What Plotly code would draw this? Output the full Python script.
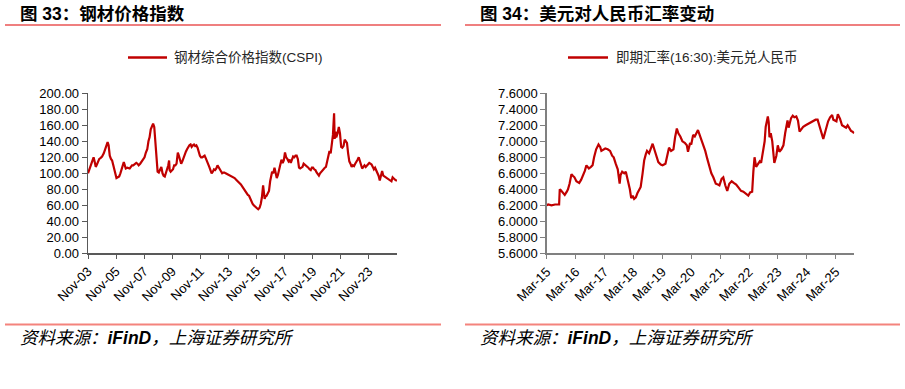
import plotly.graph_objects as go

# ---------------- data: CSPI steel price index ----------------
cspi_dates = [
    "2003-11-01", "2003-12-10", "2004-01-20", "2004-02-20", "2004-03-25", "2004-04-20", "2004-05-20",
    "2004-06-20", "2004-07-15", "2004-08-20", "2004-09-20", "2004-11-01", "2004-12-15", "2005-01-25",
    "2005-03-10", "2005-03-25", "2005-04-20", "2005-05-20", "2005-06-20", "2005-07-20", "2005-08-20",
    "2005-09-20", "2005-11-10", "2005-12-15", "2006-01-20", "2006-02-20", "2006-03-20", "2006-04-20",
    "2006-05-20", "2006-06-15", "2006-07-10", "2006-08-20", "2006-09-20", "2006-10-20", "2006-11-20",
    "2006-12-20", "2007-01-20", "2007-03-01", "2007-04-10", "2007-05-10", "2007-06-10", "2007-07-20",
    "2007-08-20", "2007-10-01", "2007-11-10", "2007-12-15", "2008-01-20", "2008-02-20", "2008-03-20",
    "2008-04-20", "2008-05-20", "2008-06-20", "2008-07-20", "2008-08-15", "2008-09-15", "2008-10-15",
    "2008-11-15", "2008-12-20", "2009-01-20", "2009-02-20", "2009-03-20", "2009-04-20", "2009-05-20",
    "2009-06-20", "2009-07-20", "2009-08-10", "2009-08-25", "2009-09-20", "2009-10-20", "2009-11-20",
    "2009-12-20", "2010-01-20", "2010-02-20", "2010-03-25", "2010-04-20", "2010-05-20", "2010-06-20",
    "2010-07-20", "2010-08-20", "2010-09-20", "2010-10-20", "2010-11-20", "2010-12-20", "2011-01-20",
    "2011-02-20", "2011-03-20", "2011-04-20", "2011-05-20", "2011-06-20", "2011-07-20", "2011-08-20",
    "2011-09-20", "2011-10-20", "2011-11-20", "2011-12-20", "2012-01-20", "2012-02-20", "2012-03-20",
    "2012-04-20", "2012-05-20", "2012-06-20", "2012-07-20", "2012-08-20", "2012-09-20", "2012-10-20",
    "2012-11-20", "2012-12-20", "2013-01-20", "2013-02-20", "2013-03-20", "2013-04-20", "2013-05-20",
    "2013-06-20", "2013-07-20", "2013-08-20", "2013-10-01", "2013-11-20", "2014-01-10", "2014-02-20",
    "2014-04-10", "2014-05-20", "2014-07-10", "2014-08-20", "2014-09-20", "2014-11-01", "2014-12-10",
    "2015-01-10", "2015-02-15", "2015-03-20", "2015-04-20", "2015-05-20", "2015-06-20", "2015-07-20",
    "2015-08-20", "2015-09-20", "2015-10-20", "2015-11-20", "2015-12-15", "2016-01-20", "2016-02-20",
    "2016-03-20", "2016-04-20", "2016-05-10", "2016-05-30", "2016-06-20", "2016-07-20", "2016-08-20",
    "2016-09-20", "2016-10-20", "2016-11-20", "2016-12-10", "2017-01-10", "2017-02-10", "2017-03-10",
    "2017-04-10", "2017-05-10", "2017-06-10", "2017-07-10", "2017-08-10", "2017-09-10", "2017-10-10",
    "2017-11-10", "2017-12-10", "2018-01-10", "2018-02-10", "2018-03-10", "2018-04-10", "2018-05-10",
    "2018-06-10", "2018-07-10", "2018-08-10", "2018-09-10", "2018-10-10", "2018-11-10", "2018-12-10",
    "2019-01-10", "2019-02-10", "2019-03-10", "2019-04-10", "2019-05-10", "2019-06-10", "2019-07-10",
    "2019-08-10", "2019-09-10", "2019-10-10", "2019-11-10", "2019-12-10", "2020-01-10", "2020-02-10",
    "2020-03-10", "2020-04-10", "2020-05-10", "2020-06-10", "2020-07-10", "2020-08-10", "2020-09-10",
    "2020-10-10", "2020-11-10", "2020-12-10", "2021-01-10", "2021-02-10", "2021-03-10", "2021-04-10",
    "2021-05-10", "2021-05-25", "2021-06-15", "2021-07-05", "2021-08-10", "2021-09-10", "2021-10-10",
    "2021-11-10", "2021-12-10", "2022-01-10", "2022-02-10", "2022-03-10", "2022-04-10", "2022-05-10",
    "2022-06-10", "2022-07-10", "2022-08-10", "2022-09-10", "2022-10-10", "2022-11-10", "2022-12-10",
    "2023-01-10", "2023-02-10", "2023-03-10", "2023-04-10", "2023-05-10", "2023-06-10", "2023-07-10",
    "2023-08-10", "2023-09-10", "2023-10-10", "2023-11-10", "2023-12-10", "2024-01-10", "2024-02-10",
    "2024-03-10", "2024-04-10", "2024-05-10", "2024-06-10", "2024-07-10", "2024-08-10", "2024-09-10",
    "2024-10-10", "2024-11-10", "2024-12-10", "2025-01-10", "2025-02-10", "2025-03-10", "2025-04-10",
    "2025-05-10", "2025-06-10", "2025-07-10", "2025-08-10", "2025-09-10", "2025-10-10", "2025-10-31",
]
cspi_values = [
    100, 105, 112, 116, 120, 115, 108,
    111, 114, 118, 119, 121, 125, 130,
    137, 139, 135, 122, 118, 116, 110,
    103, 94, 95, 96, 100, 105, 108,
    114, 110, 106, 107, 106, 106, 108,
    110, 110, 111, 113, 112, 110, 112,
    114, 116, 120, 126, 130, 140, 145,
    155, 158, 162, 158, 140, 118, 102,
    101, 104, 108, 100, 97, 96, 101,
    103, 110, 116, 104, 102, 103, 105,
    110, 110, 112, 126, 122, 118, 112,
    115, 120, 123, 127, 130, 133, 135,
    136, 133, 135, 136, 134, 135, 132,
    125, 122, 120, 120, 121, 122, 119,
    116, 112, 108, 104, 100, 102, 105,
    104, 106, 110, 107, 104, 102, 100,
    101, 101, 100, 99, 98, 96, 95,
    94, 92, 90, 88, 86, 83, 80,
    77, 74, 73, 72, 68, 65, 62,
    60, 59, 58, 56, 55, 57, 62,
    70, 85, 70, 68, 71, 72, 75,
    78, 90, 98, 102, 100, 107, 101,
    94, 98, 104, 108, 117, 113, 116,
    126, 120, 118, 115, 117, 113, 117,
    121, 120, 122, 122, 118, 107, 106,
    107, 108, 112, 111, 109, 108, 107,
    105, 104, 107, 107, 105, 104, 101,
    99, 97, 100, 102, 104, 106, 107,
    108, 115, 122, 128, 125, 135, 148,
    175, 143, 152, 145, 150, 158, 150,
    133, 132, 134, 142, 140, 138, 125,
    115, 112, 108, 110, 109, 112, 114,
    117, 120, 115, 110, 106, 108, 110,
    108, 110, 111, 113, 112, 111, 108,
    105, 107, 104, 100, 97, 91, 99,
    103, 97, 96, 95, 95, 94, 93,
    92, 90, 95, 93, 92, 91, 91,
]

# ---------------- data: USD/CNY spot rate ----------------
fx_dates = [
    "2015-03-01", "2015-03-20", "2015-05-01", "2015-06-15", "2015-08-05", "2015-08-13", "2015-08-25",
    "2015-09-20", "2015-10-15", "2015-11-10", "2015-11-25", "2015-12-15", "2016-01-08", "2016-01-25",
    "2016-02-15", "2016-03-10", "2016-04-15", "2016-05-10", "2016-06-01", "2016-06-25", "2016-07-15",
    "2016-08-15", "2016-09-10", "2016-10-01", "2016-10-20", "2016-11-15", "2016-12-15", "2017-01-05",
    "2017-01-20", "2017-02-15", "2017-03-10", "2017-04-10", "2017-05-10", "2017-06-05", "2017-06-25",
    "2017-07-20", "2017-08-15", "2017-09-08", "2017-09-20", "2017-10-10", "2017-11-05", "2017-11-25",
    "2017-12-20", "2018-01-15", "2018-02-01", "2018-02-20", "2018-03-10", "2018-04-01", "2018-04-20",
    "2018-05-10", "2018-06-01", "2018-06-25", "2018-07-15", "2018-08-05", "2018-08-20", "2018-09-15",
    "2018-10-10", "2018-10-30", "2018-11-20", "2018-12-15", "2019-01-10", "2019-02-10", "2019-03-05",
    "2019-04-10", "2019-05-10", "2019-05-25", "2019-06-20", "2019-07-20", "2019-08-10", "2019-09-01",
    "2019-09-20", "2019-10-15", "2019-11-10", "2019-12-10", "2020-01-05", "2020-01-20", "2020-02-15",
    "2020-03-01", "2020-03-25", "2020-04-15", "2020-05-25", "2020-06-15", "2020-07-10", "2020-07-30",
    "2020-08-25", "2020-09-20", "2020-10-15", "2020-11-10", "2020-12-05", "2021-01-05", "2021-02-01",
    "2021-02-20", "2021-03-20", "2021-04-10", "2021-05-05", "2021-05-30", "2021-06-25", "2021-07-25",
    "2021-08-20", "2021-09-20", "2021-10-20", "2021-11-20", "2021-12-20", "2022-01-20", "2022-02-20",
    "2022-03-15", "2022-04-10", "2022-04-25", "2022-05-10", "2022-05-30", "2022-06-20", "2022-07-15",
    "2022-08-01", "2022-08-20", "2022-09-15", "2022-09-28", "2022-10-25", "2022-11-05", "2022-11-15",
    "2022-12-01", "2022-12-20", "2023-01-15", "2023-02-10", "2023-02-28", "2023-03-20", "2023-04-15",
    "2023-05-10", "2023-06-01", "2023-06-20", "2023-07-01", "2023-07-15", "2023-08-15", "2023-09-05",
    "2023-09-25", "2023-10-20", "2023-11-10", "2023-11-30", "2023-12-20", "2024-01-15", "2024-02-15",
    "2024-03-20", "2024-04-20", "2024-05-20", "2024-06-20", "2024-07-15", "2024-08-10", "2024-09-01",
    "2024-09-25", "2024-10-20", "2024-11-10", "2024-11-25", "2024-12-20", "2025-01-15", "2025-01-30",
    "2025-02-20", "2025-03-10", "2025-03-28", "2025-04-25", "2025-05-20", "2025-06-20", "2025-07-10",
    "2025-07-30", "2025-08-20", "2025-09-10", "2025-09-30", "2025-10-20",
]
fx_values = [
    6.20, 6.21, 6.20, 6.21, 6.21, 6.40, 6.39,
    6.36, 6.33, 6.37, 6.40, 6.47, 6.59, 6.57,
    6.55, 6.50, 6.48, 6.52, 6.57, 6.63, 6.70,
    6.66, 6.68, 6.70, 6.80, 6.90, 6.96, 6.93,
    6.88, 6.90, 6.91, 6.90, 6.88, 6.82, 6.80,
    6.72, 6.65, 6.47, 6.58, 6.62, 6.60, 6.62,
    6.52, 6.40, 6.29, 6.32, 6.28, 6.30, 6.35,
    6.40, 6.43, 6.60, 6.76, 6.84, 6.88, 6.85,
    6.93, 6.97, 6.90, 6.82, 6.74, 6.71, 6.70,
    6.72, 6.85, 6.92, 6.88, 6.90, 7.05, 7.16,
    7.10, 7.06, 7.00, 6.98, 6.95, 6.87, 6.98,
    6.96, 7.08, 7.06, 7.14, 7.08, 7.02, 6.98,
    6.88, 6.78, 6.68, 6.60, 6.55, 6.47, 6.46,
    6.45, 6.53, 6.55, 6.45, 6.38, 6.47, 6.50,
    6.48, 6.46, 6.42, 6.38, 6.37, 6.34, 6.32,
    6.36, 6.37, 6.62, 6.80, 6.68, 6.72, 6.75,
    6.73, 6.85, 7.00, 7.18, 7.31, 7.24, 7.05,
    7.10, 7.00, 6.73, 6.82, 6.95, 6.87, 6.90,
    6.95, 7.10, 7.20, 7.26, 7.17, 7.29, 7.32,
    7.30, 7.31, 7.26, 7.12, 7.15, 7.18, 7.20,
    7.22, 7.24, 7.25, 7.27, 7.27, 7.18, 7.10,
    7.03, 7.12, 7.20, 7.25, 7.30, 7.33, 7.27,
    7.26, 7.25, 7.34, 7.28, 7.20, 7.18, 7.17,
    7.20, 7.16, 7.13, 7.12, 7.10,
]

# ---------------- axis ticks ----------------
cspi_tick_vals = ["2003-11-01", "2005-11-01", "2007-11-01", "2009-11-01", "2011-11-01", "2013-11-01",
                  "2015-11-01", "2017-11-01", "2019-11-01", "2021-11-01", "2023-11-01"]
cspi_tick_text = ["Nov-03", "Nov-05", "Nov-07", "Nov-09", "Nov-11", "Nov-13",
                  "Nov-15", "Nov-17", "Nov-19", "Nov-21", "Nov-23"]
fx_tick_vals = ["2015-03-01", "2016-03-01", "2017-03-01", "2018-03-01", "2019-03-01", "2020-03-01",
                "2021-03-01", "2022-03-01", "2023-03-01", "2024-03-01", "2025-03-01"]
fx_tick_text = ["Mar-15", "Mar-16", "Mar-17", "Mar-18", "Mar-19", "Mar-20",
                "Mar-21", "Mar-22", "Mar-23", "Mar-24", "Mar-25"]

titles = ["图 33：钢材价格指数", "图 34：美元对人民币汇率变动"]
series_names = ["钢材综合价格指数(CSPI)", "即期汇率(16:30):美元兑人民币"]
source_text = "资料来源：<b>iFinD</b>，上海证券研究所"

W, H = 905, 389
LINE = "#C00000"
FONT = "Liberation Sans, Arial, Noto Sans CJK SC, sans-serif"


def px(x):
    return x / W


def py(y):
    return 1 - y / H


fig = go.Figure()
fig.add_trace(go.Scatter(x=cspi_dates, y=cspi_values, mode="lines", name=series_names[0],
                         line=dict(color=LINE, width=2.2), xaxis="x", yaxis="y"))
fig.add_trace(go.Scatter(x=fx_dates, y=fx_values, mode="lines", name=series_names[1],
                         line=dict(color=LINE, width=2.2), xaxis="x2", yaxis="y2"))

ydom = [py(253.3), py(93.3)]
common_x = dict(type="date", tickangle=-45, ticks="outside", ticklen=4, tickwidth=1,
                showline=True, showgrid=False, zeroline=False, automargin=False,
                tickfont=dict(family=FONT, size=13, color="#000000"))
common_y = dict(ticks="outside", ticklen=5, tickwidth=1, showline=True, showgrid=False,
                zeroline=False, automargin=False,
                tickfont=dict(family=FONT, size=13, color="#000000"))

fig.update_layout(
    width=W, height=H, margin=dict(l=0, r=0, t=0, b=0, pad=0), autosize=False,
    paper_bgcolor="white", plot_bgcolor="white", showlegend=False, hovermode=False,
    xaxis=dict(domain=[px(88), px(397)], anchor="y", range=["2003-11-01", "2025-11-01"],
               tickvals=cspi_tick_vals, ticktext=cspi_tick_text,
               linecolor="#595959", tickcolor="#595959", linewidth=1.3, **common_x),
    yaxis=dict(domain=ydom, anchor="x", range=[0, 200], dtick=20, tick0=0, tickformat=".2f",
               linecolor="#595959", tickcolor="#595959", linewidth=1.3, **common_y),
    xaxis2=dict(domain=[px(546.7), px(854.3)], anchor="y2", range=["2015-03-01", "2025-10-22"],
                tickvals=fx_tick_vals, ticktext=fx_tick_text,
                linecolor="#808080", tickcolor="#808080", linewidth=2, **common_x),
    yaxis2=dict(domain=ydom, anchor="x2", range=[5.6, 7.6], dtick=0.2, tick0=5.6, tickformat=".4f",
                linecolor="#808080", tickcolor="#808080", linewidth=1.3, **common_y),
)

shapes = []
annotations = []
panels = [(5, 441, 18, 128, 167, 172), (465, 900, 478, 568, 608, 614)]
for i, (x0, x1, tx, lx0, lx1, ltx) in enumerate(panels):
    # title underline
    shapes.append(dict(type="line", xref="paper", yref="paper", x0=px(x0), x1=px(x1),
                       y0=py(25), y1=py(25), line=dict(color="#E00000", width=1.2)))
    # bottom separator
    shapes.append(dict(type="line", xref="paper", yref="paper", x0=px(x0), x1=px(x1),
                       y0=py(324.5), y1=py(324.5), line=dict(color="#F4837D", width=2)))
    # legend line
    shapes.append(dict(type="line", xref="paper", yref="paper", x0=px(lx0), x1=px(lx1),
                       y0=py(57.5), y1=py(57.5), line=dict(color=LINE, width=2.5)))
    annotations.append(dict(xref="paper", yref="paper", x=px(tx), y=py(14), xanchor="left",
                            yanchor="middle", showarrow=False, text="<b>" + titles[i] + "</b>",
                            font=dict(family=FONT, size=17.5, color="#000000")))
    annotations.append(dict(xref="paper", yref="paper", x=px(ltx), y=py(57.5), xanchor="left",
                            yanchor="middle", showarrow=False, text=series_names[i],
                            font=dict(family=FONT, size=13.5, color="#262626")))
    annotations.append(dict(xref="paper", yref="paper", x=px(tx), y=py(338), xanchor="left",
                            yanchor="middle", showarrow=False, text="<i>" + source_text + "</i>",
                            font=dict(family=FONT, size=17.5, color="#000000")))

fig.update_layout(shapes=shapes, annotations=annotations)
fig.write_html(
    "out.html",
    config={"displayModeBar": False, "staticPlot": True},
    post_script="document.body.style.margin='0';document.body.style.padding='0';"
                "document.body.style.overflow='hidden';",
)
